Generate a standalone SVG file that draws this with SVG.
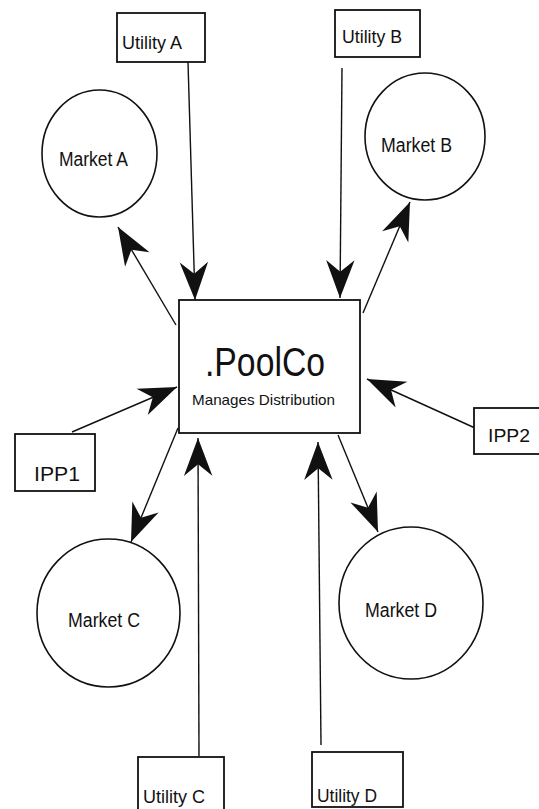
<svg xmlns="http://www.w3.org/2000/svg" width="539" height="809" viewBox="0 0 539 809">
  <style>
    .box { fill: #fff; stroke: #111; stroke-width: 1.8; }
    .ring { fill: #fff; stroke: #111; stroke-width: 1.6; }
    .lbl { font-family: "Liberation Sans", Arial, sans-serif; font-size: 19px; fill: #111; }
    .mk { font-size: 20px; }
    .big { font-family: "Liberation Sans", Arial, sans-serif; font-size: 40px; fill: #111; }
    .sub { font-family: "Liberation Sans", Arial, sans-serif; font-size: 15px; fill: #111; }
    .link { fill: none; stroke: #111; stroke-width: 1.4; marker-end: url(#head); }
  </style>
  <defs>
    <marker id="head" markerUnits="userSpaceOnUse" markerWidth="40" markerHeight="32" viewBox="-37 -15 38 30" refX="0" refY="0" orient="auto">
      <path d="M0,0 L-36,-13.5 L-25,0 L-36,13.5 Z" fill="#111"/>
    </marker>
  </defs>
  <rect width="539" height="809" fill="#fff"/>

  <!-- connectors -->
  <g id="connectors">
    <line class="link" x1="188" y1="62" x2="195" y2="300"/>
    <line class="link" x1="342" y1="68" x2="340" y2="298"/>
    <line class="link" x1="176" y1="325" x2="118" y2="227"/>
    <line class="link" x1="363" y1="313" x2="410" y2="202"/>
    <line class="link" x1="72" y1="432" x2="177" y2="387"/>
    <line class="link" x1="475" y1="428" x2="367" y2="379"/>
    <line class="link" x1="178" y1="428" x2="131" y2="542"/>
    <line class="link" x1="338" y1="435" x2="378" y2="532"/>
    <line class="link" x1="199" y1="756" x2="198" y2="438"/>
    <line class="link" x1="321" y1="745" x2="318" y2="442"/>
  </g>

  <!-- central pool -->
  <g id="poolco">
    <rect class="box" x="179" y="300" width="181" height="133"/>
    <text class="big" x="205" y="376" textLength="120" lengthAdjust="spacingAndGlyphs">.PoolCo</text>
    <text class="sub" x="192" y="405" textLength="143" lengthAdjust="spacingAndGlyphs">Manages Distribution</text>
  </g>

  <!-- utilities -->
  <g id="utility-a">
    <rect class="box" x="117" y="13" width="88" height="49"/>
    <text class="lbl" x="122" y="49" textLength="60" lengthAdjust="spacingAndGlyphs">Utility A</text>
  </g>
  <g id="utility-b">
    <rect class="box" x="335" y="10" width="85" height="47"/>
    <text class="lbl" x="342" y="43" textLength="60" lengthAdjust="spacingAndGlyphs">Utility B</text>
  </g>
  <g id="utility-c">
    <rect class="box" x="138" y="757" width="86" height="60"/>
    <text class="lbl" x="143" y="803" textLength="62" lengthAdjust="spacingAndGlyphs">Utility C</text>
  </g>
  <g id="utility-d">
    <rect class="box" x="312" y="752" width="91" height="55"/>
    <text class="lbl" x="317" y="802" textLength="60" lengthAdjust="spacingAndGlyphs">Utility D</text>
  </g>

  <!-- independent producers -->
  <g id="ipp1">
    <rect class="box" x="15" y="434" width="80" height="57"/>
    <text class="lbl mk" x="34" y="481" textLength="46" lengthAdjust="spacingAndGlyphs">IPP1</text>
  </g>
  <g id="ipp2">
    <rect class="box" x="474" y="408" width="72" height="46"/>
    <text class="lbl" x="488" y="442" textLength="42" lengthAdjust="spacingAndGlyphs">IPP2</text>
  </g>

  <!-- markets -->
  <g id="market-a">
    <ellipse class="ring" cx="99.5" cy="153.5" rx="57.5" ry="63.5"/>
    <text class="lbl mk" x="59" y="166" textLength="69" lengthAdjust="spacingAndGlyphs">Market A</text>
  </g>
  <g id="market-b">
    <ellipse class="ring" cx="425" cy="136.5" rx="60" ry="63.5"/>
    <text class="lbl mk" x="381" y="152" textLength="71" lengthAdjust="spacingAndGlyphs">Market B</text>
  </g>
  <g id="market-c">
    <ellipse class="ring" cx="108.5" cy="613" rx="71.5" ry="74"/>
    <text class="lbl mk" x="68" y="627" textLength="72" lengthAdjust="spacingAndGlyphs">Market C</text>
  </g>
  <g id="market-d">
    <ellipse class="ring" cx="411" cy="603" rx="72" ry="76"/>
    <text class="lbl mk" x="365" y="617" textLength="72" lengthAdjust="spacingAndGlyphs">Market D</text>
  </g>
</svg>
